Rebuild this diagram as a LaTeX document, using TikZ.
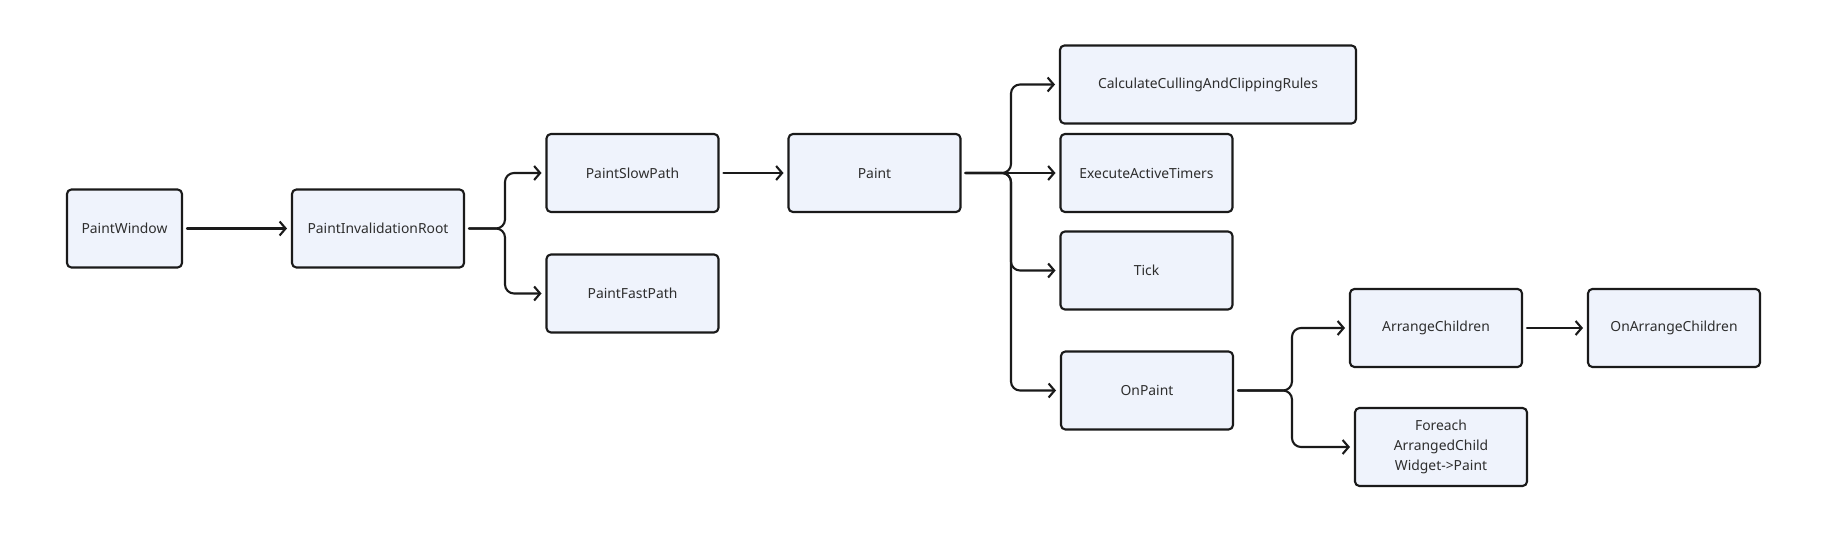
\documentclass[tikz,border=0pt]{standalone}
\usepackage{fontspec}
\setmainfont{Noto Sans}
\usepackage{tikz}
\usetikzlibrary{arrows.meta}
\definecolor{ptFill}{HTML}{EFF3FC}
\definecolor{ptInk}{HTML}{2E2E2E}
\definecolor{ptLine}{HTML}{1A1A1A}
\tikzset{
  pt diagram/.style={font=\fontsize{7.9}{11.3}\selectfont, text=ptInk,
    line cap=round, line join=round},
  pt box/.style={draw=ptLine, fill=ptFill, line width=1.2pt,
    rounded corners=2.5pt, align=center, inner sep=2pt, outer sep=0.1cm,
    minimum width=3.44cm, minimum height=1.56cm},
  pt arrow/.style={-{Straight Barb[length=1.2mm,width=2.8mm]}, draw=ptLine,
    line width=1.2pt},
  pt branch/.style={pt arrow, rounded corners=0.18cm}
}

\begin{document}
\begin{tikzpicture}[pt diagram]
\useasboundingbox (0,0) rectangle (36.88,-10.98);
\node[pt box,minimum width=2.3cm] (window) at (2.49,-4.57) {PaintWindow};
\node[pt box] (root) at (7.56,-4.57) {PaintInvalidationRoot};
\node[pt box] (slow) at (12.65,-3.46) {PaintSlowPath};
\node[pt box] (fast) at (12.65,-5.87) {PaintFastPath};
\node[pt box] (paint) at (17.49,-3.46) {Paint};
\node[pt box,minimum width=5.92cm] (culling) at (24.16,-1.69) {CalculateCullingAndClippingRules};
\node[pt box] (timers) at (22.93,-3.46) {ExecuteActiveTimers};
\node[pt box] (tick) at (22.93,-5.41) {Tick};
\node[pt box] (onpaint) at (22.94,-7.81) {OnPaint};
\node[pt box] (arrange) at (28.72,-6.56) {ArrangeChildren};
\node[pt box] (onarrange) at (33.48,-6.56) {OnArrangeChildren};
\node[pt box] (foreach) at (28.82,-8.94) {Foreach\\ArrangedChild\\Widget->Paint};
% forks
\coordinate (root fork) at (10.10,-4.57);
\coordinate (paint fork) at (20.22,-3.46);
\coordinate (onpaint fork) at (25.84,-7.81);
\draw[pt arrow] (window) -- (root);
\foreach \target in {slow,fast}
  \draw[pt branch] (root.east) -- (root fork) |- (\target.west);
\draw[pt arrow] (slow) -- (paint);
\foreach \target in {culling,tick,onpaint}
  \draw[pt branch] (paint.east) -- (paint fork) |- (\target.west);
\draw[pt arrow] (paint) -- (timers);
\foreach \target in {arrange,foreach}
  \draw[pt branch] (onpaint.east) -- (onpaint fork) |- (\target.west);
\draw[pt arrow] (arrange) -- (onarrange);
\end{tikzpicture}
\end{document}
